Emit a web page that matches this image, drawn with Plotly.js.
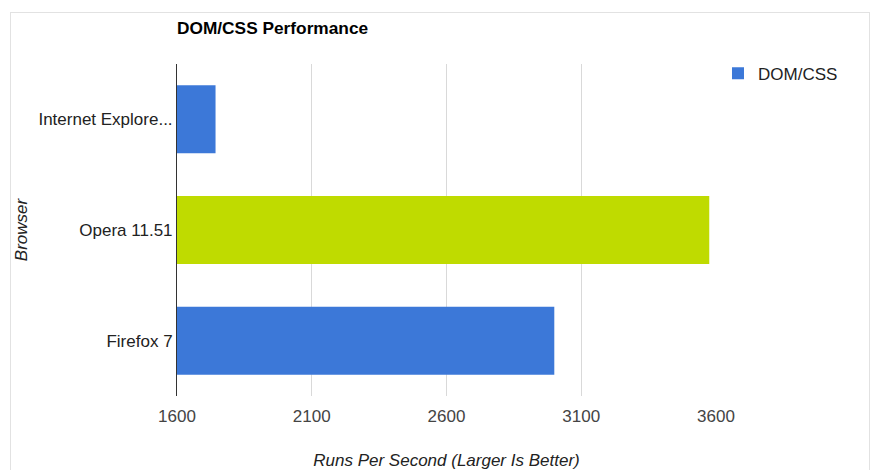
<!DOCTYPE html>
<html>
<head>
<meta charset="utf-8">
<script src="https://cdn.plot.ly/plotly-3.0.1.min.js"></script>
<style>
  html, body { margin: 0; padding: 0; background: #fff; }
  #wrap { position: relative; width: 870px; height: 470px; }
  #chart { width: 870px; height: 470px; }
  #frame { position: absolute; left: 10px; top: 12px; width: 858px; height: 470px;
           border-left: 1px solid #e2e2e2; border-top: 1px solid #e2e2e2; border-right: 1px solid #e2e2e2;
           pointer-events: none; }
</style>
</head>
<body>
<div id="wrap">
  <div id="chart"></div>
  <div id="frame"></div>
</div>
<script>
const browsers = ["Internet Explore...", "Opera 11.51", "Firefox 7"];
const runsPerSecond = [1743, 3575, 3000];
const barColors = ["#3c78d8", "#bfdb00", "#3c78d8"];
const seriesName = "DOM/CSS";
const xTicks = [1600, 2100, 2600, 3100, 3600];

const font = "Liberation Sans, Arial, sans-serif";

const trace = {
  type: "bar",
  orientation: "h",
  name: seriesName,
  y: browsers,
  x: runsPerSecond,
  marker: { color: barColors, line: { width: 0 } },
  showlegend: true,
  hoverinfo: "x+y"
};

const layout = {
  width: 870, height: 470,
  margin: { l: 177, r: 154, t: 64, b: 74, pad: 0 },
  paper_bgcolor: "#ffffff",
  plot_bgcolor: "#ffffff",
  font: { family: font, size: 17, color: "#444" },
  title: {
    text: "<b>DOM/CSS Performance</b>",
    font: { family: font, size: 17.3, color: "#000" },
    xref: "paper", x: 0, xanchor: "left",
    yref: "container", y: 1 - 28/470, yanchor: "middle"
  },
  bargap: 0.385,
  xaxis: {
    range: [1600, 3600],
    tickvals: xTicks,
    ticktext: xTicks.map(String),
    showgrid: true, gridcolor: "#d9d9d9", gridwidth: 1,
    zeroline: false, showline: false, ticks: "",
    ticklabelstandoff: 8,
    tickfont: { family: font, size: 17, color: "#444" },
    title: { text: "<i>Runs Per Second (Larger Is Better)</i>", font: { family: font, size: 17, color: "#222" }, standoff: 35 },
    fixedrange: true
  },
  yaxis: {
    type: "category",
    categoryorder: "array", categoryarray: browsers,
    autorange: "reversed",
    showgrid: false, zeroline: false,
    showline: true, linecolor: "#333", linewidth: 1,
    ticks: "",
    tickfont: { family: font, size: 17, color: "#222" },
    title: { text: "<i>Browser</i>", font: { family: font, size: 17, color: "#222" }, standoff: 6 },
    fixedrange: true
  },
  legend: {
    x: 1.0037, xanchor: "left",
    y: 1.025, yanchor: "top",
    font: { family: font, size: 17, color: "#222" },
    bgcolor: "rgba(0,0,0,0)"
  }
};

Plotly.newPlot("chart", [trace], layout, { displayModeBar: false, staticPlot: true });
</script>
</body>
</html>
